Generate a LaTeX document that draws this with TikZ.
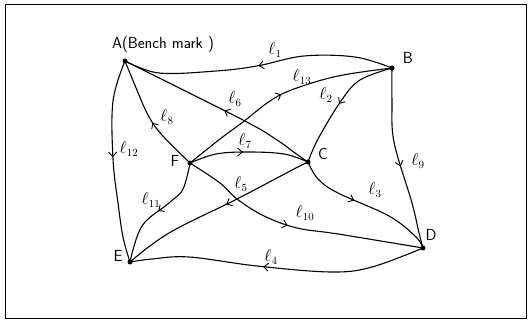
\documentclass[tikz,border=0pt]{standalone}
\usetikzlibrary{arrows.meta,decorations.markings}
\tikzset{
  pt/.style={circle,fill=black,inner sep=0pt,minimum size=5pt},
  lbl/.style={font=\sffamily\fontsize{16}{18}\selectfont,inner sep=0pt},
  elbl/.style={font=\fontsize{16}{18}\selectfont,inner sep=0pt},
  edge/.style={line width=1.1pt},
  arrat/.style={decoration={markings,mark=at position #1 with {\arrow{Straight Barb[length=4.5pt,width=8pt,line width=0.9pt]}}},postaction=decorate}
}
\begin{document}
\begin{tikzpicture}[x=1pt,y=-1pt]
\useasboundingbox (0,0) rectangle (530,320);
\draw[line width=1pt] (5,5) rectangle (526,318);
% points
\node[pt] (A) at (125,61) {};
\node[pt] (B) at (392,68) {};
\node[pt] (C) at (308,162) {};
\node[pt] (F) at (190,163) {};
\node[pt] (E) at (130,262) {};
\node[pt] (D) at (423,248) {};
% point labels
\node[lbl] (tA) at (163,45) {A(Bench mark )};
\node[lbl] (tB) at (408,58) {B};
\node[lbl] (tC) at (323,154) {C};
\node[lbl] (tF) at (175,161) {F};
\node[lbl] (tE) at (118,256) {E};
\node[lbl] (tD) at (431,235) {D};
% edges
\draw[edge,arrat=0.5] plot[smooth,tension=0.6] coordinates {(B) (355,57) (304,56) (257,66) (216,71) (159,73) (A)};
\draw[edge,arrat=0.47] plot[smooth,tension=0.6] coordinates {(C) (295,153) (277,140) (243,120) (A)};
\draw[edge,arrat=0.45] plot[smooth,tension=0.6] coordinates {(F) (162,135) (148,115) (134,83) (A)};
\draw[edge,arrat=0.48] plot[smooth,tension=0.6] coordinates {(A) (113,101) (113,159) (118,203) (123,237) (E)};
\draw[edge,arrat=0.5] plot[smooth,tension=0.6] coordinates {(F) (220,139) (243,122) (270,101) (294,89) (338,76) (B)};
\draw[edge,arrat=0.5] plot[smooth,tension=0.6] coordinates {(B) (360,80) (341,101) (318,139) (C)};
\draw[edge,arrat=0.45] plot[smooth,tension=0.6] coordinates {(F) (216,154) (248,152) (284,154) (C)};
\draw[edge,arrat=0.54] plot[smooth,tension=0.6] coordinates {(B) (392,101) (394,142) (412,203) (419,233) (D)};
\draw[edge,arrat=0.5] plot[smooth,tension=0.6] coordinates {(F) (183,189) (169,203) (142,226) (E)};
\draw[edge,arrat=0.45] plot[smooth,tension=0.6] coordinates {(C) (294,169) (237,199) (169,233) (E)};
\draw[edge,arrat=0.42] plot[smooth,tension=0.6] coordinates {(C) (318,179) (338,193) (389,216) (416,237) (D)};
\draw[edge,arrat=0.46] plot[smooth,tension=0.6] coordinates {(F) (220,183) (237,199) (264,216) (297,228) (338,234) (D)};
\draw[edge,arrat=0.55] plot[smooth,tension=0.6] coordinates {(D) (372,267) (331,272) (257,266) (189,257) (152,259) (E)};
% edge labels
\node[elbl] (l1) at (275,50) {$\ell_{1}$};
\node[elbl] (l13) at (302,77) {$\ell_{13}$};
\node[elbl] (l6) at (235,99) {$\ell_{6}$};
\node[elbl] (l2) at (326,95) {$\ell_{2}$};
\node[elbl] (l8) at (167,117) {$\ell_{8}$};
\node[elbl] (l12) at (129,149) {$\ell_{12}$};
\node[elbl] (l7) at (245,141) {$\ell_{7}$};
\node[elbl] (l9) at (418,161) {$\ell_{9}$};
\node[elbl] (l11) at (151,200) {$\ell_{11}$};
\node[elbl] (l5) at (241,184) {$\ell_{5}$};
\node[elbl] (l3) at (375,190) {$\ell_{3}$};
\node[elbl] (l10) at (305,213) {$\ell_{10}$};
\node[elbl] (l4) at (271,257) {$\ell_{4}$};
\end{tikzpicture}
\end{document}
